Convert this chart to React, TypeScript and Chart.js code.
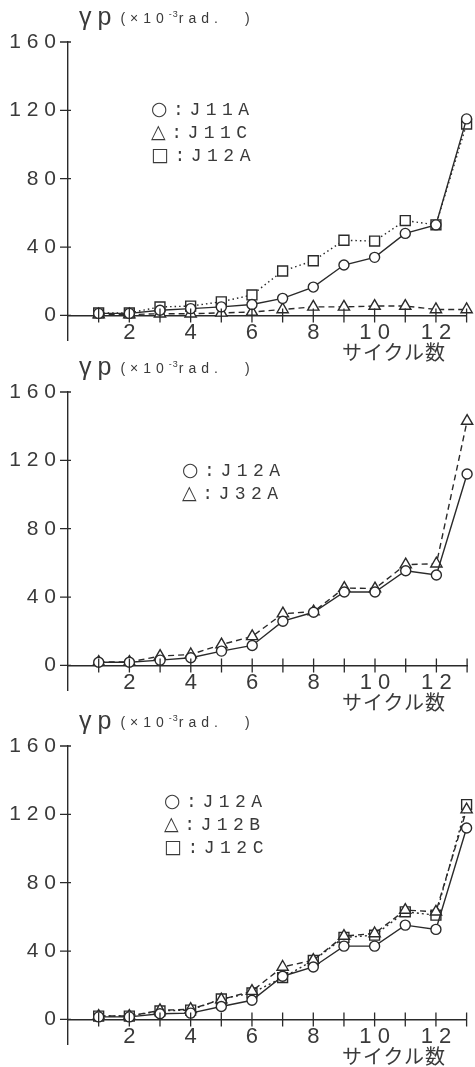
import React, { useEffect, useRef } from "react";
import { Chart, registerables } from "chart.js";

Chart.register(...registerables);

// ---- data ----
const cycles = [1, 2, 3, 4, 5, 6, 7, 8, 9, 10, 11, 12, 13];
const xTickValues = [2, 4, 6, 8, 10, 12];
const yTickValues = [0, 40, 80, 120, 160];

// panel 1
const p1J11A = [1.2, 1.2, 3, 4, 5, 6.4, 10, 16.6, 29.5, 34, 48, 53, 115];
const p1J11C = [0.5, 0.5, 1, 1, 1.5, 2, 3.5, 5, 5, 5.5, 5.5, 3.5, 3.5];
const p1J12A = [1.5, 1.5, 5, 5.5, 8, 12, 26, 32, 44, 43.5, 55.5, 53, 112];

// panel 2
const p2J12A = [1.9, 1.9, 3.1, 4.5, 8.4, 11.7, 25.9, 31.1, 43, 43, 55.4, 52.9, 112];
const p2J32A = [2, 2, 5.5, 6.4, 12.2, 17, 30.3, 31.5, 45.3, 45, 59, 59.5, 143];

// panel 3
const p3J12A = [1.5, 1.5, 3.3, 3.7, 7.6, 11.2, 25.3, 30.7, 42.9, 42.9, 55.2, 52.7, 112];
const p3J12B = [2, 2, 5.3, 6, 11.6, 16.6, 30.7, 34.7, 48.8, 50.3, 64, 63, 122.8];
const p3J12C = [2, 2, 5, 5.5, 12, 15.5, 24.5, 34.5, 48, 49.3, 63, 61, 125.7];

const yAxisTitle = "γp";
const yAxisUnit = "(×10";
const yAxisUnitSup = "-3";
const yAxisUnitEnd = "rad.";
const yAxisUnitClose = ")";
const xAxisTitle = "サイクル数";

const INK = "#2a2a2a";
const TEXT = "#3a3a3a";
const TICK_FONT = '"Liberation Sans", sans-serif';
const CANVAS_H = 365;

type Shape = "circle" | "triangle" | "rect";
interface Series {
  name: string;
  values: number[];
  shape: Shape;
  dash: number[];
}

const symbolFor: Record<Shape, string> = { circle: "○", triangle: "△", rect: "□" };
const radiusFor: Record<Shape, number> = { circle: 5, triangle: 6.5, rect: 7 };

const crossTicks = {
  id: "crossTicks",
  afterDraw(chart: any) {
    const { ctx, chartArea } = chart;
    const xs = chart.scales.x;
    const ys = chart.scales.y;
    const y0 = ys.getPixelForValue(0);
    ctx.save();
    ctx.strokeStyle = INK;
    ctx.lineWidth = 1.3;
    ctx.beginPath();
    for (const c of cycles) {
      const px = xs.getPixelForValue(c);
      ctx.moveTo(px, y0 - 7);
      ctx.lineTo(px, y0 + 7);
    }
    for (const v of yTickValues) {
      const py = ys.getPixelForValue(v);
      ctx.moveTo(chartArea.left - 8, py);
      ctx.lineTo(chartArea.left + 3, py);
    }
    ctx.stroke();
    ctx.restore();
  },
};

function Panel({
  top,
  series,
  legendLeft,
  legendTop,
}: {
  top: number;
  series: Series[];
  legendLeft: number;
  legendTop: number;
}) {
  const ref = useRef<HTMLCanvasElement | null>(null);
  useEffect(() => {
    if (!ref.current) return;
    const chart = new Chart(ref.current, {
      type: "line",
      data: {
        datasets: series.map((s) => ({
          label: s.name,
          data: cycles.map((c, i) => ({ x: c, y: s.values[i] })),
          borderColor: INK,
          borderWidth: 1.4,
          borderDash: s.dash,
          pointStyle: s.shape,
          pointRadius: radiusFor[s.shape],
          pointBorderWidth: 1.4,
          pointBorderColor: INK,
          pointBackgroundColor: "#ffffff",
          tension: 0,
          clip: false,
        })),
      },
      options: {
        animation: false,
        responsive: false,
        layout: { padding: { top: 42, right: 7, bottom: 0, left: 0 } },
        plugins: { legend: { display: false }, tooltip: { enabled: false } },
        scales: {
          x: {
            type: "linear",
            min: 0,
            max: 13,
            position: { y: 0 } as any,
            afterBuildTicks: (scale: any) => {
              scale.ticks = xTickValues.map((v) => ({ value: v }));
            },
            grid: { display: false, drawTicks: false },
            border: { display: true, color: INK, width: 1.4 },
            ticks: {
              padding: 4,
              color: TEXT,
              font: { family: TICK_FONT, size: 22 },
              maxRotation: 0,
              autoSkip: false,
              callback: (v: any) => String(v).split("").join(" "),
            },
          },
          y: {
            type: "linear",
            min: -14.6,
            max: 160,
            afterBuildTicks: (scale: any) => {
              scale.ticks = yTickValues.map((v) => ({ value: v }));
            },
            afterFit: (scale: any) => {
              scale.width = 68;
            },
            grid: { display: false, drawTicks: false },
            border: { display: true, color: INK, width: 1.4 },
            ticks: {
              padding: 12,
              color: TEXT,
              font: { family: TICK_FONT, size: 21 },
              callback: (v: any) => String(v).split("").join(" "),
            },
          },
        },
      },
      plugins: [crossTicks],
    });
    return () => chart.destroy();
  }, []);

  return (
    <>
      <canvas
        ref={ref}
        width={475}
        height={CANVAS_H}
        style={{ position: "absolute", left: 0, top, width: 475, height: CANVAS_H }}
      />
      <div
        style={{
          position: "absolute",
          left: 79,
          top: top + 3,
          color: TEXT,
          whiteSpace: "nowrap",
          fontFamily: '"Liberation Sans", sans-serif',
          lineHeight: "26px",
        }}
      >
        <span style={{ fontSize: 25, letterSpacing: 6 }}>{yAxisTitle}</span>
        <span style={{ fontSize: 14, letterSpacing: 5, marginLeft: 3, position: "relative", top: -2 }}>
          {yAxisUnit}
          <sup style={{ fontSize: 9, letterSpacing: 1 }}>{yAxisUnitSup}</sup>
          {yAxisUnitEnd}
          <span style={{ marginLeft: 22 }}>{yAxisUnitClose}</span>
        </span>
      </div>
      <div
        style={{
          position: "absolute",
          left: legendLeft,
          top: top + legendTop,
          color: TEXT,
          fontFamily: '"Liberation Mono", "DejaVu Sans Mono", monospace',
          fontSize: 18,
          lineHeight: "21px",
          whiteSpace: "nowrap",
        }}
      >
        {series.map((s) => (
          <div key={s.name} style={{ letterSpacing: 5.5 }}>
            <span style={{ fontFamily: '"DejaVu Sans", sans-serif', fontSize: 19 }}>{symbolFor[s.shape]}</span>
            {":" + s.name}
          </div>
        ))}
      </div>
      <div
        style={{
          position: "absolute",
          left: 342,
          top: top + 340,
          color: TEXT,
          fontFamily: '"Noto Sans CJK JP", sans-serif',
          fontSize: 20,
          lineHeight: "24px",
          letterSpacing: 1,
          whiteSpace: "nowrap",
        }}
      >
        {xAxisTitle}
      </div>
    </>
  );
}

const panel1: Series[] = [
  { name: "J11A", values: p1J11A, shape: "circle", dash: [] },
  { name: "J11C", values: p1J11C, shape: "triangle", dash: [6, 4] },
  { name: "J12A", values: p1J12A, shape: "rect", dash: [1.5, 3] },
];
const panel2: Series[] = [
  { name: "J12A", values: p2J12A, shape: "circle", dash: [] },
  { name: "J32A", values: p2J32A, shape: "triangle", dash: [6, 4] },
];
const panel3: Series[] = [
  { name: "J12A", values: p3J12A, shape: "circle", dash: [] },
  { name: "J12B", values: p3J12B, shape: "triangle", dash: [6, 4] },
  { name: "J12C", values: p3J12C, shape: "rect", dash: [2, 3] },
];

export default function App() {
  return (
    <div
      style={{
        position: "absolute",
        left: 0,
        top: 0,
        width: 475,
        height: 1067,
        background: "#ffffff",
        overflow: "hidden",
      }}
    >
      <Panel top={0} series={panel1} legendLeft={151} legendTop={98} />
      <Panel top={350} series={panel2} legendLeft={182} legendTop={109} />
      <Panel top={704} series={panel3} legendLeft={164} legendTop={86} />
    </div>
  );
}
